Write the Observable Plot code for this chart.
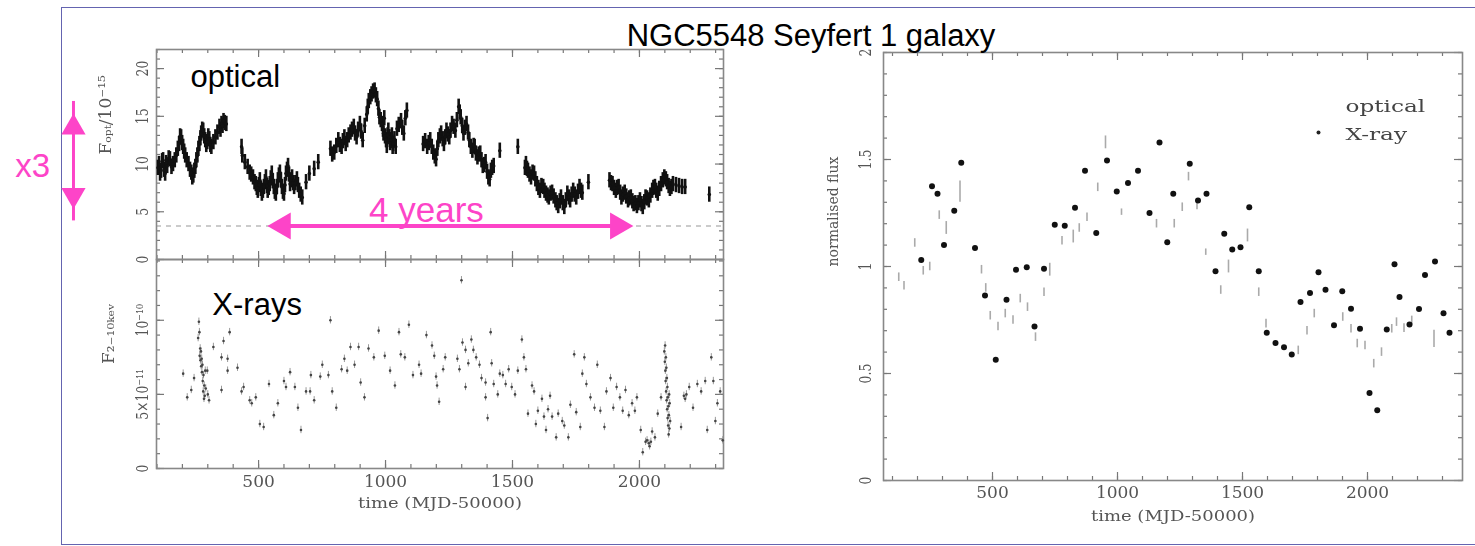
<!DOCTYPE html>
<html>
<head>
<meta charset="utf-8">
<script src="https://cdn.jsdelivr.net/npm/d3@7"></script>
<script src="https://cdn.jsdelivr.net/npm/@observablehq/plot@0.6"></script>
<style>
html,body{margin:0;padding:0;background:#fff;}
#wrap{position:relative;width:1475px;height:546px;overflow:hidden;background:#fff;}
#frame{position:absolute;left:61px;top:7px;width:1440px;height:538px;border:1.5px solid #6464b0;box-sizing:border-box;}
.panel{position:absolute;}
.panel svg{overflow:visible;}
.panel svg > *:not([aria-description="annotation"]){filter:blur(0.4px);}
#title{position:absolute;left:511px;top:20px;width:600px;text-align:center;font-family:"Liberation Sans",Arial,Helvetica,sans-serif;font-size:31px;line-height:31px;color:#000;white-space:nowrap;}
</style>
</head>
<body>
<div id="wrap">
  <div id="frame"></div>
  <div id="tl" class="panel" style="left:0;top:0"></div>
  <div id="bl" class="panel" style="left:0;top:259px"></div>
  <div id="rp" class="panel" style="left:760px;top:0"></div>
  <div id="title">NGC5548 Seyfert 1 galaxy</div>
</div>
<script>
// ---------------- data ----------------
// optical light curve, [MJD-50000, F_opt / 1e-15]
const optSeason1 = [[104,9.6],[108,10.0],[112,9.0],[116,9.3],[120,10.3],[124,10.4],[128,9.4],[132,9.0],[136,10.1],[140,9.8],[146,10.6],[151,10.5],[157,9.7],[163,10.0],[170,10.4],[176,10.9],[182,11.6],[187,12.1],[191,12.9],[195,12.8],[199,12.2],[203,11.8],[207,11.3],[211,10.9],[217,10.4],[224,10.0],[230,9.4],[235,9.1],[239,8.6],[243,8.8],[247,9.3],[251,9.7],[255,10.4],[259,10.9],[263,11.6],[267,12.1],[271,12.7],[274,13.2],[278,13.6],[282,13.5],[286,12.9],[290,12.5],[294,12.0],[298,12.3],[302,12.9],[306,12.6],[310,12.0],[314,11.8],[322,12.3],[330,12.8],[338,13.3],[346,13.9],[350,13.6],[354,14.2],[358,14.0],[362,14.5],[367,14.3],[373,14.2]];
const optSeason2 = [[433,11.8],[436,10.9],[446,10.2],[457,9.7],[465,9.1],[471,8.9],[478,8.6],[484,8.1],[489,7.9],[493,7.5],[497,7.2],[501,7.8],[505,8.3],[509,7.4],[513,6.9],[517,7.2],[521,7.6],[525,8.1],[529,8.6],[533,7.7],[536,7.2],[540,7.5],[544,7.9],[548,8.5],[552,9.0],[556,8.2],[560,7.6],[564,7.1],[568,6.9],[572,7.6],[576,8.3],[580,8.8],[584,9.1],[588,8.3],[592,7.6],[596,7.1],[600,6.9],[604,7.8],[608,9.0],[612,9.4],[616,9.8],[620,8.9],[624,7.9],[628,8.3],[632,8.6],[636,8.0],[640,7.6],[645,8.0],[651,8.4],[655,7.8],[660,7.2],[666,6.8],[672,6.5]];
const optSeason3 = [[687,8.1],[700,9.0],[719,9.5],[735,10.2],[783,11.6],[790,11.0],[798,11.2],[806,11.9],[814,12.5],[820,12.0],[827,11.8],[832,12.4],[838,12.8],[843,12.1],[849,12.5],[855,13.0],[862,13.3],[868,13.6],[875,13.9],[880,13.2],[886,12.8],[892,13.6],[899,14.2],[904,13.4],[910,12.5],[918,14.0],[926,15.2],[930,16.0],[934,16.6],[940,17.0],[945,17.3],[951,17.6],[957,17.7],[962,17.2],[967,16.8],[972,15.8],[976,14.9],[981,14.6],[986,14.2],[990,13.6],[992,13.2],[995,14.8],[998,12.9],[1002,12.5],[1005,11.9],[1008,13.0],[1011,13.5],[1015,12.8],[1018,12.2],[1021,12.5],[1025,13.0],[1028,11.8],[1030,12.1],[1035,12.6],[1040,11.8],[1045,13.7],[1052,14.1],[1061,14.5],[1066,13.8],[1072,13.2],[1078,14.8],[1084,15.6]];
const optSeason4 = [[1148,12.1],[1156,12.4],[1164,11.8],[1170,12.2],[1176,12.5],[1182,11.8],[1188,11.2],[1194,10.8],[1199,10.5],[1204,11.6],[1208,12.5],[1214,12.9],[1219,13.2],[1225,12.6],[1230,12.1],[1235,12.8],[1240,13.5],[1245,13.1],[1251,12.8],[1256,13.5],[1262,14.2],[1268,13.9],[1275,13.5],[1281,14.6],[1288,16.0],[1292,15.4],[1296,14.9],[1302,14.0],[1307,13.2],[1313,13.8],[1319,14.2],[1325,13.3],[1330,12.5],[1336,11.8],[1342,11.4],[1347,11.9],[1351,11.8],[1356,11.1],[1362,10.7],[1367,11.0],[1373,11.1],[1378,10.4],[1383,9.8],[1389,9.9],[1394,10.2],[1400,9.2],[1405,8.6],[1410,8.4],[1415,9.3],[1420,9.6],[1426,9.8],[1450,11.4],[1521,11.8]];
const optSeason5 = [[1549,9.6],[1553,10.0],[1557,9.5],[1561,9.3],[1567,8.9],[1573,8.6],[1579,9.1],[1585,9.0],[1590,8.4],[1596,7.9],[1602,7.5],[1608,7.2],[1614,7.7],[1621,7.6],[1626,7.2],[1632,6.9],[1638,6.7],[1643,6.5],[1650,6.9],[1656,7.0],[1662,6.6],[1669,6.2],[1674,5.9],[1680,5.6],[1686,6.1],[1691,6.5],[1698,5.9],[1704,5.5],[1710,6.2],[1716,6.9],[1722,6.5],[1727,6.2],[1733,6.8],[1739,7.2],[1745,6.8],[1751,6.5],[1758,7.1],[1764,7.6],[1770,7.2],[1775,7.0],[1799,8.1]];
const optSeason6 = [[1882,8.3],[1888,8.0],[1894,7.9],[1900,7.5],[1907,7.2],[1912,7.5],[1918,7.6],[1924,7.0],[1929,6.5],[1935,6.8],[1942,7.0],[1948,6.6],[1955,6.2],[1960,6.4],[1966,6.5],[1972,6.1],[1977,5.8],[1984,5.9],[1990,5.6],[1996,5.9],[2002,6.2],[2008,5.8],[2013,5.5],[2019,6.0],[2024,6.5],[2030,6.4],[2037,6.2],[2043,6.7],[2050,7.2],[2055,7.5],[2061,7.6],[2066,7.2],[2072,6.9],[2078,7.4],[2085,7.9],[2092,8.3],[2098,8.6],[2104,8.4],[2109,8.1],[2115,7.7],[2120,7.4],[2126,7.6],[2132,7.9],[2144,7.8],[2156,7.7],[2168,7.6],[2180,7.6],[2275,6.8]];

// X-ray light curve, [MJD-50000, F_2-10keV / 1e-11]
const xraySet1 = [[203,6.4],[219,4.8],[235,5.3],[246,6.1],[262,8.8],[265,9.9],[267,9.2],[268,7.6],[270,8.1],[271,7.3],[273,7.9],[274,6.9],[276,7.4],[277,6.5],[279,7.0],[280,5.9],[282,5.2],[283,6.3],[285,4.7],[286,5.6],[288,4.9],[290,6.6],[292,5.4],[298,6.6],[300,5.0],[305,4.6],[322,8.2],[354,5.3],[354,7.5],[362,8.6],[378,7.4],[378,6.6],[386,9.2],[417,6.8],[433,5.2],[441,5.5],[465,4.6],[473,4.4],[489,4.8],[505,3.0],[520,2.8],[541,5.7],[560,3.6],[576,4.4],[600,5.9],[608,5.5],[624,6.5],[643,5.5],[655,4.1],[667,2.6],[687,5.2],[703,5.2],[706,6.3],[719,4.6],[743,6.2],[751,7.0],[775,6.3],[783,10.0],[790,5.2],[806,4.1]];
const xraySet2 = [[827,6.7],[838,7.4],[849,6.6],[862,8.2],[878,7.0],[894,8.2],[902,5.8],[917,4.8],[933,8.1],[954,7.5],[973,9.3],[997,7.6],[1018,6.6],[1037,5.6],[1053,9.2],[1060,7.7],[1076,7.5],[1092,9.7],[1108,6.3],[1132,7.0],[1140,6.4],[1161,9.0],[1183,8.3],[1192,7.6],[1199,6.2],[1203,5.6],[1211,4.5],[1227,6.7],[1235,7.5],[1283,7.4],[1291,6.7],[1299,12.7],[1303,8.5],[1315,5.5],[1315,8.0],[1326,7.1],[1338,8.7],[1346,8.0],[1357,7.5],[1370,7.0],[1378,6.1],[1394,5.8],[1394,4.8],[1402,3.4],[1414,9.2],[1418,7.1],[1426,5.7],[1442,5.0],[1450,6.4],[1462,6.3],[1473,5.7],[1485,6.7],[1497,5.5],[1510,5.0],[1521,6.6],[1537,8.7],[1545,7.5],[1553,6.7],[1561,3.7]];
const xraySet3 = [[1577,5.6],[1585,5.2],[1592,3.0],[1600,3.9],[1616,4.7],[1624,3.5],[1632,2.6],[1640,4.0],[1648,4.9],[1656,3.5],[1672,2.1],[1680,3.7],[1696,3.2],[1704,2.9],[1720,2.1],[1728,4.3],[1743,7.7],[1751,3.8],[1767,2.8],[1775,6.4],[1783,7.5],[1791,5.7],[1807,4.8],[1823,4.1],[1834,7.0],[1846,3.9],[1862,2.8],[1870,5.2],[1886,6.1],[1897,4.1],[1910,5.5],[1923,4.8],[1934,3.9],[1945,5.3],[1958,3.6],[1971,4.4],[1982,3.9],[1990,4.8],[2005,2.6],[2013,1.1],[2024,1.8],[2030,1.9],[2037,1.7],[2040,1.5],[2045,1.8],[2050,2.5],[2061,2.1],[2072,3.7],[2085,4.8]];
const xraySet4 = [[2098,7.9],[2100,7.2],[2101,8.3],[2102,6.6],[2103,5.9],[2104,7.5],[2105,5.2],[2106,6.8],[2107,4.6],[2108,6.1],[2109,4.0],[2110,5.5],[2111,3.4],[2112,4.8],[2113,2.9],[2114,4.2],[2115,2.3],[2116,3.6],[2117,5.0],[2118,2.7],[2119,4.4],[2121,3.2],[2164,2.8],[2175,4.9],[2180,4.7],[2185,5.0],[2196,5.5],[2211,4.1],[2228,5.7],[2243,5.2],[2259,5.9],[2267,2.6],[2283,7.5],[2291,5.9],[2299,3.2],[2307,4.4],[2318,5.2],[2328,1.9]];

// normalised, binned light curves (right panel)
const normXray = [[215,1.03],[258,1.375],[280,1.34],[306,1.10],[347,1.26],[375,1.485],[430,1.087],[470,0.865],[513,0.564],[556,0.845],[594,0.985],[637,0.997],[668,0.72],[706,0.99],[749,1.195],[789,1.19],[830,1.274],[870,1.448],[915,1.156],[958,1.495],[997,1.35],[1042,1.39],[1082,1.448],[1128,1.25],[1168,1.58],[1199,1.113],[1223,1.34],[1289,1.48],[1322,1.308],[1356,1.34],[1392,0.978],[1427,1.153],[1459,1.08],[1492,1.09],[1527,1.277],[1565,0.978],[1597,0.69],[1632,0.642],[1666,0.623],[1697,0.589],[1732,0.834],[1770,0.876],[1804,0.973],[1832,0.891],[1866,0.725],[1899,0.884],[1934,0.803],[1970,0.709],[2008,0.409],[2039,0.328],[2077,0.706],[2108,1.01],[2128,0.857],[2168,0.729],[2206,0.801],[2230,0.96],[2270,1.023],[2304,0.782],[2328,0.69]];
// [time, flux, half error bar]
const normOptical = [[125,0.95,0.02],[146,0.91,0.02],[189,1.11,0.02],[223,0.98,0.02],[249,1.0,0.02],[287,1.24,0.02],[315,1.18,0.03],[370,1.35,0.05],[456,0.985,0.02],[473,0.90,0.02],[491,0.77,0.02],[522,0.72,0.02],[551,0.78,0.02],[582,0.75,0.02],[611,0.85,0.02],[640,0.81,0.02],[672,0.67,0.02],[706,0.88,0.02],[729,0.985,0.03],[778,1.12,0.02],[823,1.14,0.03],[847,1.18,0.02],[878,1.23,0.02],[921,1.37,0.02],[952,1.58,0.03],[1016,1.254,0.015],[1156,1.20,0.02],[1227,1.20,0.02],[1259,1.277,0.02],[1284,1.42,0.02],[1318,1.285,0.02],[1353,1.067,0.015],[1413,0.89,0.02],[1444,1.0,0.03],[1520,1.145,0.03],[1565,0.88,0.02],[1594,0.733,0.02],[1723,0.608,0.02],[1758,0.70,0.02],[1787,0.78,0.02],[1901,0.764,0.02],[1934,0.709,0.02],[1959,0.64,0.02],[1990,0.631,0.02],[2025,0.546,0.02],[2056,0.60,0.02],[2097,0.709,0.02],[2116,0.74,0.02],[2146,0.712,0.02],[2177,0.748,0.02],[2266,0.662,0.04]];

// axes
const leftXDomain = [98, 2331];
const rightXDomain = [64, 2380];
const optYDomain = [0, 22];
const xrayYDomain = [0, 14.1];
const normYDomain = [0, 2];
const xTickLabels = [500, 1000, 1500, 2000];
const xMinor = [100,200,300,400,500,600,700,800,900,1000,1100,1200,1300,1400,1500,1600,1700,1800,1900,2000,2100,2200,2300];
const optYTicks = [0, 5, 10, 15, 20];
const xrayYTicks = [0, 5, 10];
const xrayYTickLabels = ["0", "5×10⁻¹¹", "10⁻¹⁰"];
const normYTicks = [0, 0.5, 1, 1.5, 2];
const normYTickLabels = ["0", "0.5", "1", "1.5", "2"];

// annotations
const hostLevel = 3.5;                                 // dashed level, optical panel
const yearsArrow = {t1: 535, t2: 1976, f: 3.5};         // "4 years"
const yearsNote = {t: 1161, f: 5.15, s: "4 years"};
const factorArrow = {t: -229, f1: 5.3, f2: 15.3};       // "x3"
const factorNote = {t: -390, f: 9.8, s: "x3"};
const opticalNote = {t: 232, f: 19.07, s: "optical"};
const xrayNote = {t: 318, f: 11.0, s: "X-rays"};
const legendItems = [{t: 1912, f: 1.748, s: "optical"}, {t: 1912, f: 1.617, s: "X-ray"}];
const legendDot = {t: 1804, f: 1.626};

// ---------------- drawing ----------------
const SERIF = "DejaVu Serif, Liberation Serif, serif";
const SANS = "Liberation Sans, Arial, Helvetica, sans-serif";
const INK = "#555";
const MAG = "#fd44c8";
const ANN = {ariaDescription: "annotation"};
const pairs = a => a.map(([t, f]) => ({t, f}));
const optical = pairs([...optSeason1, ...optSeason2, ...optSeason3, ...optSeason4, ...optSeason5, ...optSeason6]);
const xray = pairs([...xraySet1, ...xraySet2, ...xraySet3, ...xraySet4]);
const nX = pairs(normXray);
const nO = normOptical.map(([t, f, e]) => ({t, f, e}));
const range = (a, b, s) => d3.range(a, b + s / 2, s);

// top-left panel geometry and its y scale (used to set the arrowheads back from the tips)
const W1 = 567, H1 = 210, TOP1 = 49;
const yOpt = Plot.scale({y: {domain: optYDomain, range: [TOP1 + H1, TOP1]}});
const HEAD = 14; // px from arrow tip to the triangle's centre
const factorHeads = [
  {t: factorArrow.t, f: yOpt.invert(yOpt.apply(factorArrow.f2) + HEAD), rot: 0},
  {t: factorArrow.t, f: yOpt.invert(yOpt.apply(factorArrow.f1) - HEAD), rot: 180}
];

function boxTicks(xs, ys, w, h, len, stroke) {
  return [
    Plot.ruleX(xs, {x: d => d, insetBottom: h - len, stroke, strokeWidth: 1.2}),
    Plot.ruleX(xs, {x: d => d, insetTop: h - len, stroke, strokeWidth: 1.2}),
    Plot.ruleY(ys, {y: d => d, insetRight: w - len, stroke, strokeWidth: 1.2}),
    Plot.ruleY(ys, {y: d => d, insetLeft: w - len, stroke, strokeWidth: 1.2})
  ];
}
function stretchText(svg, label, sx, sy) {
  svg.querySelectorAll(`[aria-description="${label}"] text`).forEach(t => {
    const tr = t.getAttribute("transform") || "";
    t.setAttribute("transform", `${tr} scale(${sx},${sy})`);
  });
}
const yTickText = (ticks, labels, dx) => Plot.text(ticks, {
  y: d => d, text: (d, i) => labels[i], frameAnchor: "left", dx, rotate: -90,
  fontFamily: SERIF, fontSize: 12.5, fill: INK, textAnchor: "middle", ariaDescription: "ytick"
});
const xTickText = (dy) => Plot.text(xTickLabels, {
  x: d => d, text: d => String(d), frameAnchor: "bottom", dy,
  fontFamily: SERIF, fontSize: 17, fill: INK, ariaDescription: "xtick"
});
const xTitle = (dy) => Plot.text(["time (MJD-50000)"], {
  frameAnchor: "bottom", dy, text: d => d, fontFamily: SERIF, fontSize: 15, fill: INK, ariaDescription: "xtitle"
});

// top-left: optical
const tl = Plot.plot({
  width: 730, height: 262, marginLeft: 156, marginRight: 7, marginTop: TOP1, marginBottom: 3,
  x: {domain: leftXDomain, axis: null}, y: {domain: optYDomain, axis: null},
  style: {background: "transparent", overflow: "visible"},
  marks: [
    Plot.ruleY([hostLevel], {y: d => d, stroke: "#bbb", strokeDasharray: "5,5", strokeWidth: 1.5}),
    ...boxTicks(xMinor, range(0, 22, 1), W1, H1, 4, "#777"),
    ...boxTicks(xTickLabels, optYTicks, W1, H1, 8, "#777"),
    Plot.frame({stroke: "#888", strokeWidth: 1.6}),
    Plot.ruleX(optical, {x: "t", y1: d => d.f - 0.8, y2: d => d.f + 0.8, stroke: "#111", strokeWidth: 2.6}),
    Plot.dot(optical, {x: "t", y: "f", r: 1.8, fill: "#111"}),
    yTickText(optYTicks, optYTicks.map(String), -14),
    Plot.text(["Fₒₚₜ/10⁻¹⁵"], {frameAnchor: "left", dx: -51, rotate: -90, text: d => d, fontFamily: SERIF, fontSize: 17, fill: INK}),
    Plot.text([opticalNote], {x: "t", y: "f", text: "s", textAnchor: "start", fontFamily: SANS, fontSize: 31, fill: "#000", ...ANN}),
    // 4 years arrow
    Plot.ruleY([yearsArrow], {y: "f", x1: "t1", x2: "t2", insetLeft: 14, insetRight: 14, stroke: MAG, strokeWidth: 4, ...ANN}),
    Plot.dot([yearsArrow], {x: "t1", y: "f", symbol: "triangle", rotate: -90, r: 10, dx: 15.5, fill: MAG, ...ANN}),
    Plot.dot([yearsArrow], {x: "t2", y: "f", symbol: "triangle", rotate: 90, r: 10, dx: -15.5, fill: MAG, ...ANN}),
    Plot.text([yearsNote], {x: "t", y: "f", text: "s", fontFamily: SANS, fontSize: 35, fill: MAG, ...ANN}),
    // x3 arrow
    Plot.ruleX([factorArrow], {x: "t", y1: "f1", y2: "f2", insetTop: 12, insetBottom: 12, stroke: MAG, strokeWidth: 3, ...ANN}),
    Plot.dot(factorHeads, {x: "t", y: "f", symbol: "triangle", rotate: "rot", r: 9, fill: MAG, ...ANN}),
    Plot.text([factorNote], {x: "t", y: "f", text: "s", fontFamily: SANS, fontSize: 33, fill: MAG, ...ANN})
  ]
});
stretchText(tl, "ytick", 1, 1.3);
document.getElementById("tl").append(tl);

// bottom-left: X-rays
const W2 = 567, H2 = 209;
const bl = Plot.plot({
  width: 730, height: 279, marginLeft: 156, marginRight: 7, marginTop: 0, marginBottom: 70,
  x: {domain: leftXDomain, axis: null}, y: {domain: xrayYDomain, axis: null},
  style: {background: "transparent", overflow: "visible"},
  marks: [
    ...boxTicks(xMinor, range(0, 14, 1), W2, H2, 4, "#777"),
    ...boxTicks(xTickLabels, xrayYTicks, W2, H2, 8, "#777"),
    Plot.frame({stroke: "#888", strokeWidth: 1.6}),
    Plot.ruleX(xray, {x: "t", y1: d => d.f - 0.25, y2: d => d.f + 0.25, stroke: "#999", strokeWidth: 1}),
    Plot.dot(xray, {x: "t", y: "f", r: 1.3, fill: "#444"}),
    yTickText(xrayYTicks, xrayYTickLabels, -14),
    Plot.text(["F₂₋₁₀ₖₑᵥ"], {frameAnchor: "left", dx: -48, rotate: -90, text: d => d, fontFamily: SERIF, fontSize: 17, fill: INK}),
    xTickText(18),
    xTitle(39),
    Plot.text([xrayNote], {x: "t", y: "f", text: "s", textAnchor: "start", fontFamily: SANS, fontSize: 31, fill: "#000", ...ANN})
  ]
});
stretchText(bl, "ytick", 1, 1.3);
stretchText(bl, "xtitle", 1.2, 1);
document.getElementById("bl").append(bl);

// right: normalised flux
const W3 = 579, H3 = 428;
const rp = Plot.plot({
  width: 715, height: 546, marginLeft: 123, marginRight: 13, marginTop: 52, marginBottom: 66,
  x: {domain: rightXDomain, axis: null}, y: {domain: normYDomain, axis: null},
  style: {background: "transparent", overflow: "visible"},
  marks: [
    ...boxTicks(xMinor, range(0, 2, 0.1), W3, H3, 4, "#777"),
    ...boxTicks(xTickLabels, normYTicks, W3, H3, 8, "#777"),
    Plot.frame({stroke: "#888", strokeWidth: 1.6}),
    Plot.ruleX(nO, {x: "t", y1: d => d.f - d.e, y2: d => d.f + d.e, stroke: "#aaa", strokeWidth: 1.6}),
    Plot.dot(nX, {x: "t", y: "f", r: 3, fill: "#111"}),
    yTickText(normYTicks, normYTickLabels, -18),
    Plot.text(["normalised flux"], {frameAnchor: "left", dx: -50, rotate: -90, text: d => d, fontFamily: SERIF, fontSize: 14, fill: INK}),
    xTickText(17),
    xTitle(40),
    Plot.dot([legendDot], {x: "t", y: "f", r: 2, fill: "#222"}),
    Plot.text(legendItems, {x: "t", y: "f", text: "s", textAnchor: "start", fontFamily: SERIF, fontSize: 16, fill: "#444", ariaDescription: "legend"})
  ]
});
stretchText(rp, "ytick", 1, 1.3);
stretchText(rp, "xtitle", 1.2, 1);
stretchText(rp, "legend", 1.45, 1);
document.getElementById("rp").append(rp);
</script>
</body>
</html>
